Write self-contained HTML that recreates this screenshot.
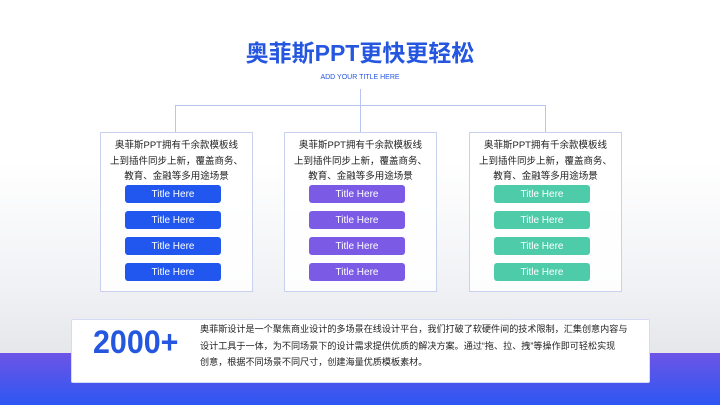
<!DOCTYPE html>
<html><head><meta charset="utf-8"><style>
body{margin:0;width:720px;height:405px;overflow:hidden;position:relative;font-family:"Liberation Sans","Noto Sans CJK SC",sans-serif;background:linear-gradient(180deg,#fff 0%,#fff 40%,#f1f2f5 70%,#e6e7ea 87%);}
.band{position:absolute;left:0;top:353px;width:720px;height:52px;background:linear-gradient(180deg,#6d55e6,#2d56f2);}
.t{position:absolute;left:0;width:720px;text-align:center;}
.box{position:absolute;top:132px;width:151px;height:158px;border:1px solid #c8d2ee;background:rgba(255,255,255,.85);}
.box p{margin:5px 0 0;font-size:9.5px;line-height:15.5px;text-align:center;color:#222;}
.btn{position:absolute;left:24px;width:96px;height:18px;border-radius:3px;color:#fff;font-size:10px;display:flex;align-items:center;justify-content:center;}
.l{position:absolute;background:#b8c6ee;}
</style></head><body>
<div class="band"></div>
<div class="t" style="top:38px;font-size:23px;line-height:30px;font-weight:bold;color:#2456e0;">奥菲斯PPT更快更轻松</div>
<div class="t" style="top:74px;font-size:7px;color:#2456e0;">ADD YOUR TITLE HERE</div>
<div class="l" style="left:360px;top:89px;width:1px;height:43px"></div>
<div class="l" style="left:175px;top:105px;width:370px;height:1px"></div>
<div class="l" style="left:175px;top:105px;width:1px;height:27px"></div>
<div class="l" style="left:545px;top:105px;width:1px;height:27px"></div>
<div class="box" style="left:100px"><p>奥菲斯PPT拥有千余款模板线<br>上到插件同步上新，覆盖商务、<br>教育、金融等多用途场景</p>
<div class="btn" style="top:52px;background:#2157ef">Title Here</div><div class="btn" style="top:78px;background:#2157ef">Title Here</div><div class="btn" style="top:104px;background:#2157ef">Title Here</div><div class="btn" style="top:130px;background:#2157ef">Title Here</div></div>
<div class="box" style="left:284px"><p>奥菲斯PPT拥有千余款模板线<br>上到插件同步上新，覆盖商务、<br>教育、金融等多用途场景</p>
<div class="btn" style="top:52px;background:#7b5ae6">Title Here</div><div class="btn" style="top:78px;background:#7b5ae6">Title Here</div><div class="btn" style="top:104px;background:#7b5ae6">Title Here</div><div class="btn" style="top:130px;background:#7b5ae6">Title Here</div></div>
<div class="box" style="left:469px"><p>奥菲斯PPT拥有千余款模板线<br>上到插件同步上新，覆盖商务、<br>教育、金融等多用途场景</p>
<div class="btn" style="top:52px;background:#4ecba9">Title Here</div><div class="btn" style="top:78px;background:#4ecba9">Title Here</div><div class="btn" style="top:104px;background:#4ecba9">Title Here</div><div class="btn" style="top:130px;background:#4ecba9">Title Here</div></div>
<div style="position:absolute;left:71px;top:319px;width:577px;height:62px;background:#fff;border:1px solid #d4dbf2;border-radius:2px;"></div>
<div style="position:absolute;left:93px;top:323px;font-size:32px;line-height:38px;font-weight:bold;color:#2456e0;transform:scaleX(0.95);transform-origin:left;">2000+</div>
<div style="position:absolute;left:200px;top:321px;width:440px;font-size:9.1px;line-height:16.5px;color:#222;white-space:nowrap;">奥菲斯设计是一个聚焦商业设计的多场景在线设计平台，我们打破了软硬件间的技术限制，汇集创意内容与<br>设计工具于一体，为不同场景下的设计需求提供优质的解决方案。通过“拖、拉、拽”等操作即可轻松实现<br>创意，根据不同场景不同尺寸，创建海量优质模板素材。</div>
</body></html>
